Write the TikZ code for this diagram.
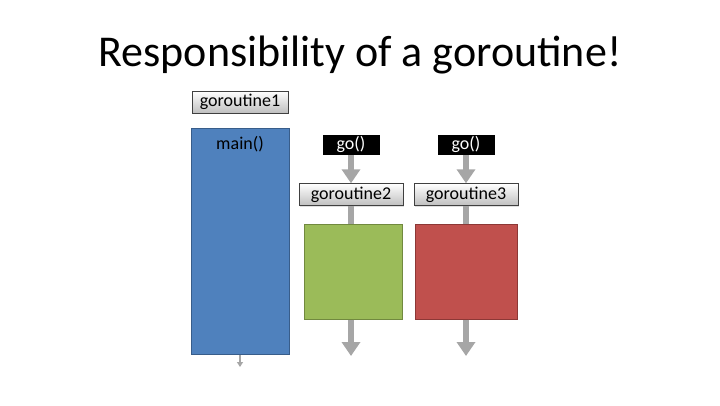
\documentclass[tikz,border=0pt]{standalone}
\usepackage{fontspec}
\setmainfont{Carlito}
\usepackage{xcolor}
\usetikzlibrary{arrows.meta, positioning, shadows}
\definecolor{blueA}{HTML}{4F81BD}
\definecolor{blueD}{HTML}{385D8A}
\definecolor{greenA}{HTML}{9BBB59}
\definecolor{greenD}{HTML}{71893F}
\definecolor{redA}{HTML}{C0504D}
\definecolor{redD}{HTML}{8C3836}
\definecolor{flowgray}{HTML}{A6A6A6}
\tikzstyle{tagbox} = [rectangle, draw=black!75, top color=white, bottom color=gray!50, minimum height=22pt, inner sep=0pt, font=\fontsize{18}{20}\selectfont, drop shadow={opacity=0.25, shadow xshift=1pt, shadow yshift=-1pt}]
\tikzstyle{gobox} = [rectangle, fill=black, draw=white, thick, text=white, minimum width=58pt, minimum height=21pt, inner sep=0pt, font=\fontsize{18}{20}\selectfont, drop shadow={opacity=0.25, shadow xshift=1pt, shadow yshift=-1pt}]
\tikzstyle{block} = [rectangle, line width=1pt, inner sep=0pt]
\tikzstyle{flow} = [draw=flowgray, line width=6pt, -{Triangle[width=18pt,length=14pt]}]
\tikzstyle{shaft} = [draw=flowgray, line width=6pt]
\begin{document}
\begin{tikzpicture}[x=1pt, y=-1pt]
\useasboundingbox (0,0) rectangle (720,405);

% Title
\node[font=\fontsize{44}{50}\selectfont] (title) at (360,55) {Responsibility of a goroutine!};

% goroutine1 with main()
\node[tagbox, minimum width=96pt] (g1) at (240,102) {goroutine1};
\node[block, fill=blueA, draw=blueD, minimum width=98pt, minimum height=226pt, anchor=north] (main) at (240,128) {};
\node[font=\fontsize{18}{20}\selectfont, below=5pt of main.north] (maintext) {main()};
\coordinate (mainend) at (240,367);
\draw[draw=flowgray, line width=2pt, -{Triangle[width=6pt,length=5pt]}] (main) -- (mainend);

% go() calls
\node[gobox] (go2) at (351,144.5) {go()};
\node[gobox] (go3) at (466,144.5) {go()};

% goroutine2 and goroutine3
\node[tagbox, minimum width=104pt] (g2) at (351,194.5) {goroutine2};
\node[tagbox, minimum width=104pt] (g3) at (466,194.5) {goroutine3};
\node[block, fill=greenA, draw=greenD, minimum width=98pt, minimum height=95pt] (work2) at (353,271.5) {};
\node[block, fill=redA, draw=redD, minimum width=102pt, minimum height=95pt] (work3) at (466,271.5) {};
\coordinate (end2) at (351,356);
\coordinate (end3) at (466,356);

% Connections
\draw[flow] (go2) -- (g2);
\draw[flow] (go3) -- (g3);
\draw[shaft] (g2) -- (g2 |- work2.north);
\draw[shaft] (g3) -- (work3);
\draw[flow] (work2.south -| end2) -- (end2);
\draw[flow] (work3) -- (end3);
\end{tikzpicture}
\end{document}
